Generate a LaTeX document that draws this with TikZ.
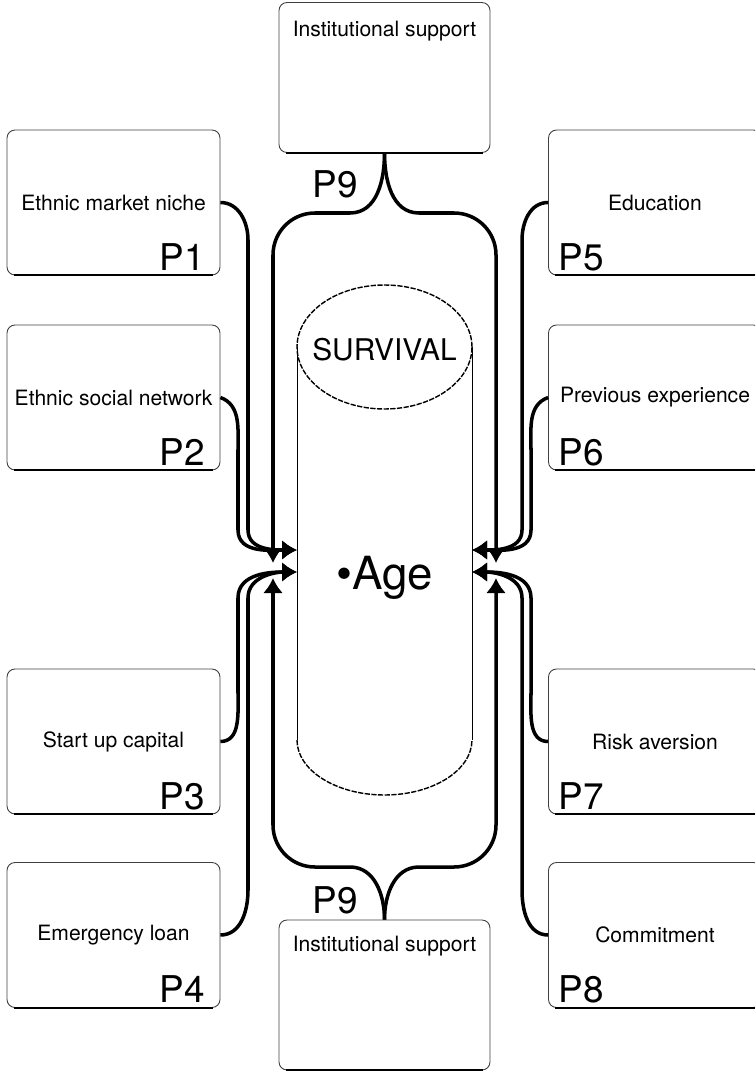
\documentclass[tikz,border=0pt]{standalone}
\usepackage{fontspec}
\setmainfont{TeX Gyre Heros}
\usetikzlibrary{positioning,arrows.meta}
\tikzset{
  pbox/.style={
    draw=black!75, rectangle, rounded corners=1.6mm, minimum height=29mm, minimum width=42.6mm,
    line width=0.5pt, font=\fontsize{12}{14}\selectfont
  },
  ibox/.style={
    draw=black!75, rectangle, rounded corners=1.6mm, minimum height=30mm, minimum width=42.2mm,
    line width=0.5pt
  },
  boxtext/.style={font=\fontsize{12}{14}\selectfont},
  plabel/.style={inner sep=0mm, font=\fontsize{21}{24}\selectfont},
  link/.style={line width=2pt},
  tip/.style={-{Latex[length=3mm, width=4mm]}},
  cyl/.style={line width=0.5pt},
  rim/.style={line width=0.8pt, dash pattern=on 3pt off 0.8pt}
}

\begin{document}
\begin{tikzpicture}[x=0.02cm, y=-0.02cm]
   \useasboundingbox (0, 0) rectangle (755, 1074);
   \clip (0, 0) rectangle (755, 1074);

   % factor boxes
   \node[pbox] (p1) at (113.5, 202.5) {Ethnic market niche};
   \node[pbox] (p2) at (113.5, 397.5) {Ethnic social network};
   \node[pbox] (p3) at (113.5, 741.5) {Start up capital};
   \node[pbox] (p4) at (113.5, 935) {Emergency loan};
   \node[pbox] (p5) at (655, 202.5) {Education};
   \node[pbox] (p6) at (655, 397.5) {Previous experience};
   \node[pbox] (p7) at (655, 741.5) {Risk aversion};
   \node[pbox] (p8) at (655, 935) {Commitment};
   \node[ibox] (topbox) at (384.5, 77.5) {};
   \node[ibox] (botbox) at (384.5, 995) {};
   \node[boxtext, below=2.5mm of topbox.north] (toptext) {Institutional support};
   \node[boxtext, below=2.1mm of botbox.north] (bottext) {Institutional support};
   \foreach \b in {p1,p2,p3,p4,p5,p6,p7,p8,topbox,botbox}
      \draw[line width=1.1pt, shorten <=1.4mm, shorten >=1.4mm] (\b.south west) -- (\b.south east);

   \node[plabel, anchor=base east] (p1l) at ([xshift=-3mm, yshift=1mm]p1.south east) {P1};
   \node[plabel, anchor=base east] (p2l) at ([xshift=-3mm, yshift=1mm]p2.south east) {P2};
   \node[plabel, anchor=base east] (p3l) at ([xshift=-3mm, yshift=1mm]p3.south east) {P3};
   \node[plabel, anchor=base east] (p4l) at ([xshift=-3mm, yshift=1mm]p4.south east) {P4};
   \node[plabel, anchor=base west] (p5l) at ([xshift=2mm, yshift=1mm]p5.south west) {P5};
   \node[plabel, anchor=base west] (p6l) at ([xshift=2mm, yshift=1mm]p6.south west) {P6};
   \node[plabel, anchor=base west] (p7l) at ([xshift=2mm, yshift=1mm]p7.south west) {P7};
   \node[plabel, anchor=base west] (p8l) at ([xshift=2mm, yshift=1mm]p8.south west) {P8};
   \node[plabel] (p9t) at (335, 184) {P9};
   \node[plabel] (p9b) at (335, 900) {P9};

   % survival cylinder
   \draw[cyl] (297, 347) -- (297, 740);
   \draw[cyl] (472, 347) -- (472, 740);
   \draw[rim] (384.5, 347) ellipse [x radius=17.5mm, y radius=12.4mm];
   \draw[rim] (297, 740) arc [start angle=180, end angle=360, x radius=17.5mm, y radius=11mm];
   \node[font=\fontsize{17}{20}\selectfont] (surv) at (384.5, 350) {SURVIVAL};
   \node[font=\fontsize{26}{30}\selectfont] (age) at (384.5, 578) {\textbullet Age};

   \coordinate (inl1) at (297, 550);
   \coordinate (inl2) at (297, 572);
   \coordinate (inr1) at (472, 550);
   \coordinate (inr2) at (472, 572);
   \coordinate (downl) at (273, 563);
   \coordinate (upl) at (273, 578);
   \coordinate (downr) at (496, 563);
   \coordinate (upr) at (496, 578);

   % left links
   \draw[link, tip] (p1.east) to[out=0, in=90] (248, 240) -- (248, 530) to[out=-90, in=180] (inl1);
   \draw[link, tip] (p2.east) to[out=-20, in=90] (238, 450) -- (238, 530) to[out=-90, in=180] (inl1);
   \draw[link, tip] (p3.east) to[out=0, in=-90] (238, 693) -- (238, 598) to[out=90, in=180] (inl2);
   \draw[link, tip] (p4.east) to[out=0, in=-90] (248, 890) -- (248, 598) to[out=90, in=180] (inl2);

   % right links
   \draw[link, tip] (p5.west) to[out=180, in=90] (522, 240) -- (522, 530) to[out=-90, in=0] (inr1);
   \draw[link, tip] (p6.west) to[out=200, in=90] (531, 450) -- (531, 530) to[out=-90, in=0] (inr1);
   \draw[link, tip] (p7.west) to[out=180, in=-90] (531, 693) -- (531, 598) to[out=90, in=0] (inr2);
   \draw[link, tip] (p8.west) to[out=180, in=-90] (522, 890) -- (522, 598) to[out=90, in=0] (inr2);

   % institutional support brackets
   \draw[link, tip] (topbox.south) to[out=-90, in=0] (350, 213) -- (315, 213) to[out=180, in=90] (273, 255) -- (downl);
   \draw[link, tip] (topbox.south) to[out=-90, in=180] (419, 213) -- (454, 213) to[out=0, in=90] (496, 255) -- (downr);
   \draw[link, tip] (botbox.north) to[out=90, in=0] (350, 867) -- (315, 867) to[out=180, in=-90] (273, 825) -- (upl);
   \draw[link, tip] (botbox.north) to[out=90, in=180] (419, 867) -- (454, 867) to[out=0, in=-90] (496, 825) -- (upr);
\end{tikzpicture}
\end{document}
